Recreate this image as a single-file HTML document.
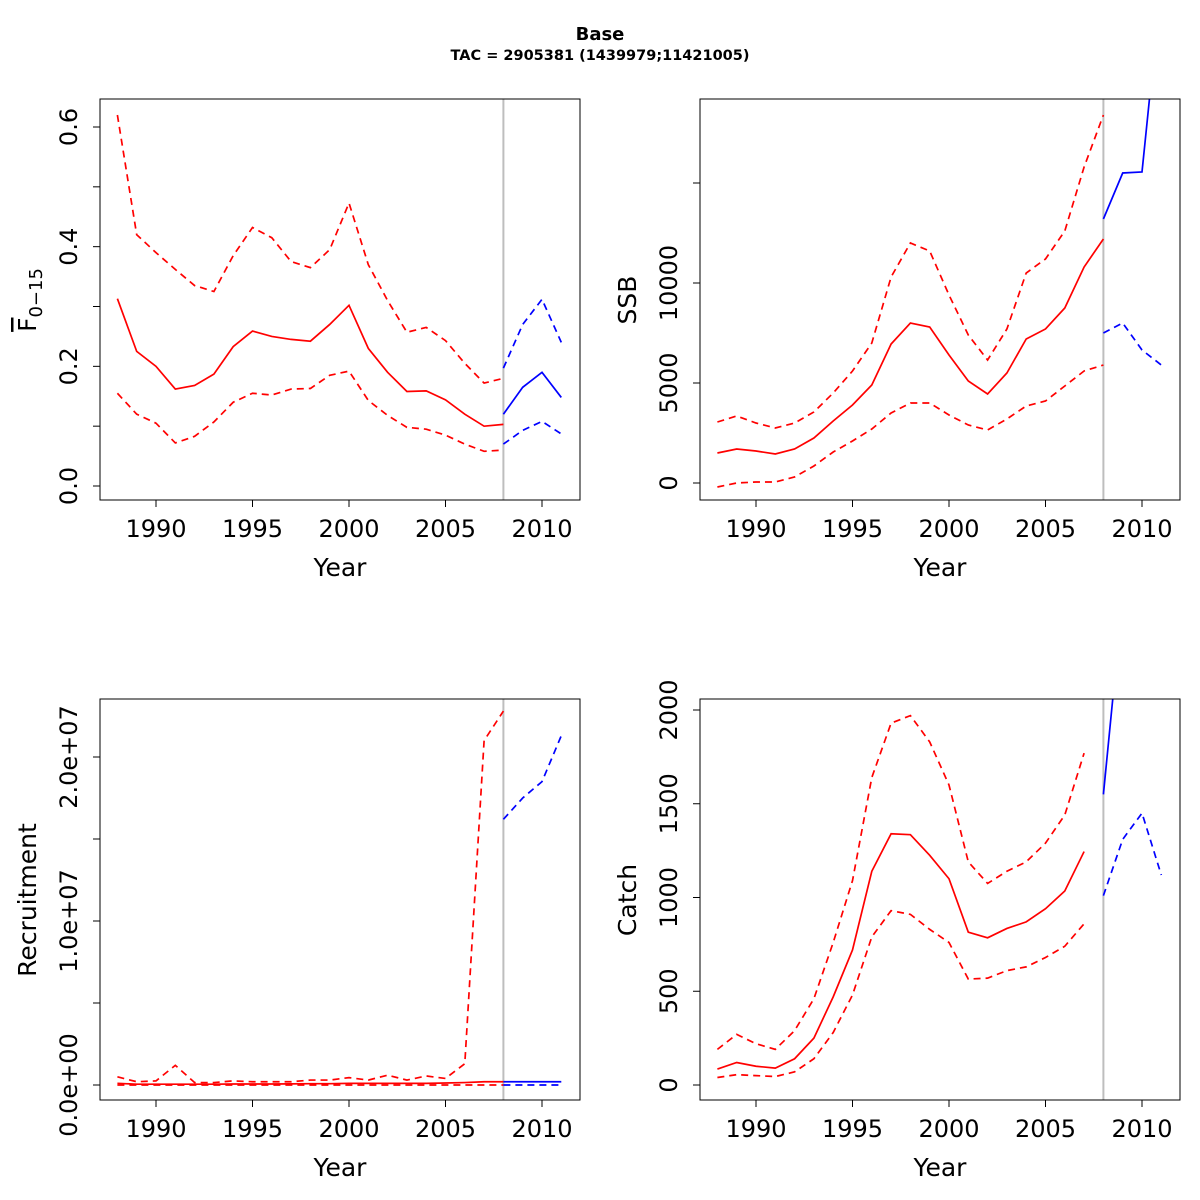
<!DOCTYPE html>
<html><head><meta charset="utf-8">
<style>body{margin:0;background:#fff}svg{display:block}text{font-family:"DejaVu Sans","Liberation Sans",sans-serif}</style>
</head><body>
<svg id="chart" width="1200" height="1200" viewBox="0 0 1200 1200" xmlns="http://www.w3.org/2000/svg">
<text x="600" y="40" text-anchor="middle" font-size="18" font-weight="bold">Base</text>
<text x="600" y="60" text-anchor="middle" font-size="14.5" font-weight="bold">TAC = 2905381 (1439979;11421005)</text>
</svg>
<script>
const histYears=[1988,1989,1990,1991,1992,1993,1994,1995,1996,1997,1998,1999,2000,2001,2002,2003,2004,2005,2006,2007,2008];
const projYears=[2008,2009,2010,2011];
const catchYears=histYears.slice(0,20);
const xTicks=[1990,1995,2000,2005,2010];

const fMed=[.313,.225,.20,.162,.168,.187,.233,.259,.25,.245,.242,.27,.302,.23,.19,.158,.159,.144,.12,.10,.103];
const fUp=[.62,.42,.39,.362,.335,.325,.385,.432,.415,.375,.365,.395,.473,.37,.31,.257,.265,.243,.205,.172,.18];
const fLo=[.155,.12,.105,.072,.083,.107,.14,.155,.152,.162,.163,.185,.192,.143,.118,.098,.095,.085,.07,.058,.06];
const fProjMed=[.12,.165,.19,.148];
const fProjUp=[.197,.27,.312,.24];
const fProjLo=[.07,.093,.108,.087];

const ssbMed=[1500,1700,1600,1450,1700,2250,3100,3900,4900,6950,8000,7800,6400,5100,4450,5500,7200,7700,8750,10800,12200];
const ssbUp=[3050,3350,3000,2750,3000,3550,4500,5600,7000,10300,12000,11600,9400,7400,6150,7700,10500,11200,12600,15800,18400];
const ssbLo=[-200,0,50,50,300,850,1550,2100,2700,3500,4000,4000,3400,2900,2650,3200,3850,4100,4850,5600,5900];
const ssbProjMed=[13200,15500,15550,25000];
const ssbProjUp=[30000,35000,40000,45000];
const ssbProjLo=[7500,8000,6650,5900];

const recMed=[1e5,5e4,5e4,5e4,5e4,5e4,6e4,6e4,6e4,7e4,8e4,8e4,1e5,1e5,1e5,1e5,1e5,1.2e5,1.5e5,2e5,2e5];
const recUp=[5e5,2e5,2.5e5,1.2e6,1.5e5,1.5e5,2.5e5,2e5,2e5,2e5,3e5,3e5,4.5e5,3e5,6e5,3e5,5.5e5,4e5,1.3e6,2.1e7,2.28e7];
const recLo=[0,0,0,0,0,0,0,0,0,0,0,0,0,0,0,0,0,0,0,0,0];
const recProjMed=[2e5,2e5,2e5,2e5];
const recProjUp=[1.62e7,1.75e7,1.85e7,2.13e7];
const recProjLo=[0,0,0,0];

const catMed=[85,120,100,90,140,250,470,720,1140,1340,1335,1225,1100,815,785,835,870,940,1035,1245];
const catUp=[190,270,220,190,290,460,760,1090,1640,1930,1970,1830,1600,1190,1075,1140,1190,1290,1440,1770];
const catLo=[40,55,50,45,70,140,280,480,790,930,910,830,760,565,570,610,630,680,740,860];
const catProjMed=[1550,2600,3000,3200];
const catProjUp=[1010,1310,1450,1120];

const fTicks=[0,.1,.2,.3,.4,.5,.6], fLabels={0:"0.0",.2:"0.2",.4:"0.4",.6:"0.6"};
const ssbTicks=[0,5000,10000,15000], ssbLabels={0:"0",5000:"5000",10000:"10000"};
const recTicks=[0,5e6,1e7,1.5e7,2e7], recLabels={0:"0.0e+00",1e7:"1.0e+07",2e7:"2.0e+07"};
const catTicks=[0,500,1000,1500,2000], catLabels={0:"0",500:"500",1000:"1000",1500:"1500",2000:"2000"};

const svg=document.getElementById('chart');
const NS='http://www.w3.org/2000/svg';
function mk(tag,attrs,parent){const e=document.createElementNS(NS,tag);for(const k in attrs)e.setAttribute(k,attrs[k]);(parent||svg).appendChild(e);return e;}

function panel(id,ox,oy,yA,yB,vA,vB,ticks,labels,ytitle,series){
  const L=ox+100,R=ox+580,T=oy+99,B=oy+500;
  const xs=y=>ox+156+(y-1990)*19.3;
  const ys=v=>yA+(v-vA)*(yB-yA)/(vB-vA);
  const g=mk('g',{});
  
  
  const cp=mk('clipPath',{id:'clip-'+id},g);
  mk('rect',{x:L,y:T,width:R-L,height:B-T},cp);
  const plot=mk('g',{'clip-path':'url(#clip-'+id+')'},g);
  const vl=mk('line',{x1:xs(2008),x2:xs(2008),y1:T,y2:B,stroke:'#bebebe','stroke-width':2},plot);
  
  
  series.forEach(s=>{
    const p=mk('polyline',{points:s.years.map((yr,i)=>xs(yr)+','+ys(s.vals[i])).join(' '),fill:'none',stroke:s.color,'stroke-width':1.7,'stroke-dasharray':s.dash?'7,5':'none'},plot);
    
    
  });
  const box=mk('rect',{x:L,y:T,width:R-L,height:B-T,fill:'none',stroke:'#000','stroke-width':1},g);
  
  
  xTicks.forEach(t=>{
    mk('line',{x1:xs(t),x2:xs(t),y1:B,y2:B+7,stroke:'#000'},g);
    const tx=mk('text',{x:xs(t),y:B+37,'text-anchor':'middle','font-size':24},g);
    tx.textContent=t;
    
    
  });
  ticks.forEach(t=>{
    const y=ys(t);
    mk('line',{x1:L-7,x2:L,y1:y,y2:y,stroke:'#000'},g);
    if(labels[t]!==undefined){
      const tx=mk('text',{x:0,y:0,'text-anchor':'middle','font-size':24,transform:'translate('+(ox+77)+','+y+') rotate(-90)'},g);
      tx.textContent=labels[t];
      
      
    }
  });
  const xt=mk('text',{x:ox+340,y:oy+576,'text-anchor':'middle','font-size':25},g);
  xt.textContent='Year';
  
  
  const yt=mk('text',{x:0,y:0,'text-anchor':'middle','font-size':25,transform:'translate('+(ox+36)+','+(oy+300)+') rotate(-90)'},g);
  
  
  if(ytitle==='F'){
    const a=mk('tspan',{'text-decoration':'overline'},yt);a.textContent='F';
    const b=mk('tspan',{'font-size':18,dy:6},yt);b.textContent='0\u221215';
  } else yt.textContent=ytitle;
}

panel('fbar',0,0,486,127,0,0.6,fTicks,fLabels,'F',[
 {name:'median',years:histYears,vals:fMed,color:'#f00'},
 {name:'upper',years:histYears,vals:fUp,color:'#f00',dash:1},
 {name:'lower',years:histYears,vals:fLo,color:'#f00',dash:1},
 {name:'proj-median',years:projYears,vals:fProjMed,color:'#00f'},
 {name:'proj-upper',years:projYears,vals:fProjUp,color:'#00f',dash:1},
 {name:'proj-lower',years:projYears,vals:fProjLo,color:'#00f',dash:1}]);
panel('ssb',600,0,483,283,0,10000,ssbTicks,ssbLabels,'SSB',[
 {name:'median',years:histYears,vals:ssbMed,color:'#f00'},
 {name:'upper',years:histYears,vals:ssbUp,color:'#f00',dash:1},
 {name:'lower',years:histYears,vals:ssbLo,color:'#f00',dash:1},
 {name:'proj-median',years:projYears,vals:ssbProjMed,color:'#00f'},
 {name:'proj-upper',years:projYears,vals:ssbProjUp,color:'#00f',dash:1},
 {name:'proj-lower',years:projYears,vals:ssbProjLo,color:'#00f',dash:1}]);
panel('recruitment',0,600,1085,757,0,2e7,recTicks,recLabels,'Recruitment',[
 {name:'median',years:histYears,vals:recMed,color:'#f00'},
 {name:'upper',years:histYears,vals:recUp,color:'#f00',dash:1},
 {name:'lower',years:histYears,vals:recLo,color:'#f00',dash:1},
 {name:'proj-median',years:projYears,vals:recProjMed,color:'#00f'},
 {name:'proj-upper',years:projYears,vals:recProjUp,color:'#00f',dash:1},
 {name:'proj-lower',years:projYears,vals:recProjLo,color:'#00f',dash:1}]);
panel('catch',600,600,1085,710,0,2000,catTicks,catLabels,'Catch',[
 {name:'median',years:catchYears,vals:catMed,color:'#f00'},
 {name:'upper',years:catchYears,vals:catUp,color:'#f00',dash:1},
 {name:'lower',years:catchYears,vals:catLo,color:'#f00',dash:1},
 {name:'proj-median',years:projYears,vals:catProjMed,color:'#00f'},
 {name:'proj-dashed',years:projYears,vals:catProjUp,color:'#00f',dash:1}]);
</script>
</body></html>
